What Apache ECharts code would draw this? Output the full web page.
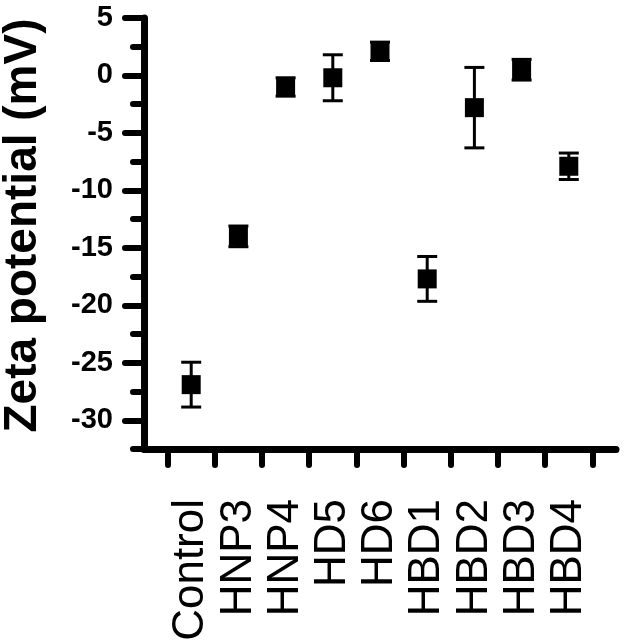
<!DOCTYPE html>
<html>
<head>
<meta charset="utf-8">
<script src="https://cdn.jsdelivr.net/npm/echarts@6/dist/echarts.min.js"></script>
<style>
html,body{margin:0;padding:0;background:#fff;}
#chart{width:625px;height:643px;}
</style>
</head>
<body>
<div id="chart"></div>
<script>
const categories = ['Control','HNP3','HNP4','HD5','HD6','HBD1','HBD2','HBD3','HBD4'];
const zetaMean = [-26.9, -14.0, -1.0, -0.2, 2.1, -17.7, -2.8, 0.5, -7.9];
const zetaErr = [1.95, 0.9, 0.8, 2.0, 0.8, 1.95, 3.5, 0.9, 1.15];
const yMajorTicks = [-30, -25, -20, -15, -10, -5, 0, 5];

const FONT = '"Liberation Sans", Arial, sans-serif';
const chart = echarts.init(document.getElementById('chart'), null, {renderer: 'canvas'});

const pointData = categories.map((c, i) => [i + 1, zetaMean[i]]);
const errData = categories.map((c, i) => [i + 1, zetaMean[i] - zetaErr[i], zetaMean[i] + zetaErr[i]]);

const option = {
  animation: false,
  backgroundColor: '#fff',
  grid: {left: 144, right: 9, top: 18, bottom: 194, containLabel: false, outerBoundsMode: 'none'},
  xAxis: {
    type: 'value', min: 0, max: 10,
    splitLine: {show: false},
    axisLine: {show: true, onZero: false, lineStyle: {color: '#000', width: 7, cap: 'round'}},
    axisTick: {show: true, customValues: [0.5,1.5,2.5,3.5,4.5,5.5,6.5,7.5,8.5,9.5], length: 16, inside: false,
      lineStyle: {color: '#000', width: 6, cap: 'round'}},
    axisLabel: {
      show: true, customValues: [1,2,3,4,5,6,7,8,9], rotate: 90, margin: 50,
      fontFamily: FONT, fontSize: 44, color: '#000',
      formatter: v => categories[Math.round(v) - 1] || ''
    }
  },
  yAxis: [
    {
      type: 'value', min: -32.5, max: 5, interval: 2.5,
      splitLine: {show: false},
      axisLine: {show: true, onZero: false, lineStyle: {color: '#000', width: 7, cap: 'round'}},
      axisTick: {show: true, length: 11, lineStyle: {color: '#000', width: 6, cap: 'round'}},
      axisLabel: {show: false},
      name: 'Zeta potential (mV)', nameLocation: 'middle', nameGap: 98,
      nameTruncate: {maxWidth: 2000},
      nameTextStyle: {fontFamily: FONT, fontSize: 46, fontWeight: 'bold', color: '#000', padding: [0, 0, 0, 16]}
    },
    {
      type: 'value', min: -32.5, max: 5, position: 'left',
      splitLine: {show: false},
      axisLine: {show: false},
      axisTick: {show: true, customValues: yMajorTicks, length: 19, lineStyle: {color: '#000', width: 6, cap: 'round'}},
      axisLabel: {show: true, customValues: yMajorTicks, margin: 31, fontFamily: FONT, fontSize: 29, fontWeight: 'bold', color: '#000'}
    }
  ],
  series: [
    {
      type: 'custom',
      xAxisIndex: 0, yAxisIndex: 0,
      data: errData,
      z: 2,
      renderItem: function (params, api) {
        const x = api.value(0);
        const lo = api.coord([x, api.value(1)]);
        const hi = api.coord([x, api.value(2)]);
        const hw = 10;
        const style = {stroke: '#000', lineWidth: 3};
        return {
          type: 'group',
          children: [
            {type: 'line', shape: {x1: lo[0], y1: lo[1], x2: hi[0], y2: hi[1]}, style: style},
            {type: 'line', shape: {x1: lo[0] - hw, y1: lo[1], x2: lo[0] + hw, y2: lo[1]}, style: style},
            {type: 'line', shape: {x1: hi[0] - hw, y1: hi[1], x2: hi[0] + hw, y2: hi[1]}, style: style}
          ]
        };
      }
    },
    {
      type: 'scatter',
      xAxisIndex: 0, yAxisIndex: 0,
      symbol: 'rect', symbolSize: [19, 19],
      itemStyle: {color: '#000', opacity: 1},
      data: pointData,
      z: 3
    }
  ]
};
chart.setOption(option);
</script>
</body>
</html>
